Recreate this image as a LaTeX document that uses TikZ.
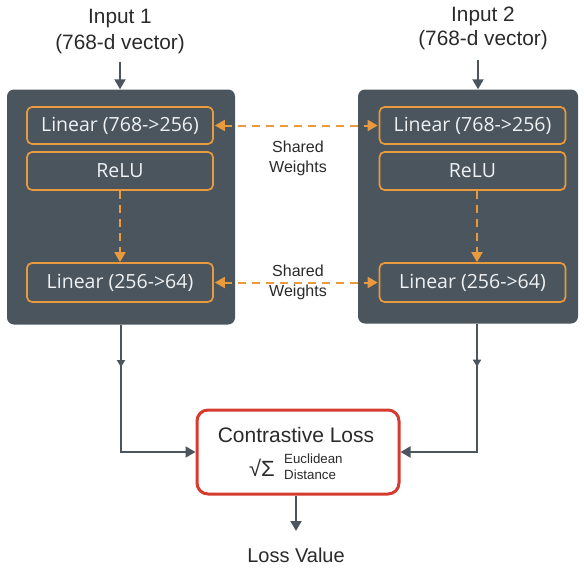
\documentclass[tikz,border=0pt]{standalone}
\usepackage{fontspec}
\setmainfont{Liberation Sans}
\newfontfamily\boxfont{Open Sans}
\usetikzlibrary{arrows.meta,decorations.markings}
\definecolor{slate}{HTML}{4A555E}
\definecolor{orng}{HTML}{E89A3C}
\definecolor{lossred}{HTML}{D63B30}
\definecolor{ink}{HTML}{2A2A2A}
\begin{document}
\begin{tikzpicture}[x=1pt,y=-1pt,
  panel/.style={fill=slate, rounded corners=7pt, draw=none, inner sep=0pt},
  layer/.style={draw=orng, line width=1.7pt, rounded corners=5pt, minimum width=186pt,
    inner sep=0pt, text=white!92!slate, font=\boxfont\fontsize{19.5}{22}\selectfont},
  odash/.style={draw=orng, line width=2pt, dash pattern=on 8pt off 6pt},
  otip/.style={-{Triangle[length=10pt,width=11pt,fill=orng]}},
  garrow/.style={draw=slate, line width=2pt, -{Triangle[length=10pt,width=11pt]}},
  midmark/.style={postaction={decorate}, decoration={markings,
     mark=at position 0.21 with {\arrow{Triangle[length=7pt,width=8pt]}}}},
  lbl/.style={text=ink, align=center, inner sep=0pt},
]
\useasboundingbox (0,0) rectangle (584,570);

% inputs
\node[lbl, font=\fontsize{20.8}{26}\selectfont] (in1) at (120,31) {Input 1\\(768-d vector)};
\node[lbl, font=\fontsize{20.8}{24}\selectfont] (in2) at (483,28) {Input 2\\(768-d vector)};

% panels
\node[panel, minimum width=228pt, minimum height=235pt] (P1) at (121,207) {};
\node[panel, minimum width=220pt, minimum height=234pt] (P2) at (468,206.5) {};

% left column
\node[layer, minimum height=37pt] (A1) at (120,125.5) {Linear (768->256)};
\node[layer, minimum height=38pt] (A2) at (120,171) {ReLU};
\node[layer, minimum height=39pt] (A3) at (120,282.5) {Linear (256->64)};

% right column
\node[layer, minimum height=37pt] (B1) at (472.5,125.5) {Linear (768->256)};
\node[layer, minimum height=38pt] (B2) at (472.5,171) {ReLU};
\node[layer, minimum height=39pt] (B3) at (472.5,282.5) {Linear (256->64)};

% input arrows
\draw[garrow, shorten <=8pt] (in1.south) -- (in1.south |- P1.north);
\draw[garrow, shorten <=10pt] ([xshift=-5pt]in2.south) -- ([xshift=-5pt]in2.south |- P2.north);

% dashed inner arrows
\draw[odash, otip] (A2.south) -- (A3.north);
\draw[odash, otip] ([xshift=4.5pt]B2.south) -- ([xshift=4.5pt]B3.north);

% shared weights
\draw[odash, {Triangle[length=10pt,width=11pt,fill=orng]}-{Triangle[length=10pt,width=11pt,fill=orng]}]
  ([xshift=1pt]A1.east) -- ([xshift=-1pt]B1.west);
\draw[odash, {Triangle[length=10pt,width=11pt,fill=orng]}-{Triangle[length=10pt,width=11pt,fill=orng]}]
  ([xshift=1pt]A3.east) -- ([xshift=-1pt]B3.west);
\node[lbl, font=\fontsize{16}{20}\selectfont, text=ink] (sw1) at (298,158) {Shared\\Weights};
\node[lbl, font=\fontsize{16}{20}\selectfont, text=ink] (sw2) at (298,282) {Shared\\Weights};

% contrastive loss
\node[draw=lossred, line width=3pt, rounded corners=11pt, fill=white,
      minimum width=202pt, minimum height=84pt, inner sep=0pt] (CL) at (298,452) {};
\node[lbl, font=\fontsize{21}{24}\selectfont] (clt) at (296,435) {Contrastive Loss};
\node[lbl, font=\fontsize{22}{24}\selectfont] (sq) at (262,468) {√Σ};
\node[lbl, align=left, anchor=west, font=\fontsize{13.3}{16}\selectfont] (ed) at (284,467) {Euclidean\\Distance};

\draw[garrow, midmark] (P1.south) |- (CL.west);
\draw[garrow, midmark] ([xshift=9pt]P2.south) |- (CL.east);

% output
\node[lbl, font=\fontsize{20}{24}\selectfont] (lv) at (296,555) {Loss Value};
\coordinate (lvtop) at (296,531);
\draw[garrow] (CL.south -| lvtop) -- (lvtop);
\end{tikzpicture}
\end{document}
